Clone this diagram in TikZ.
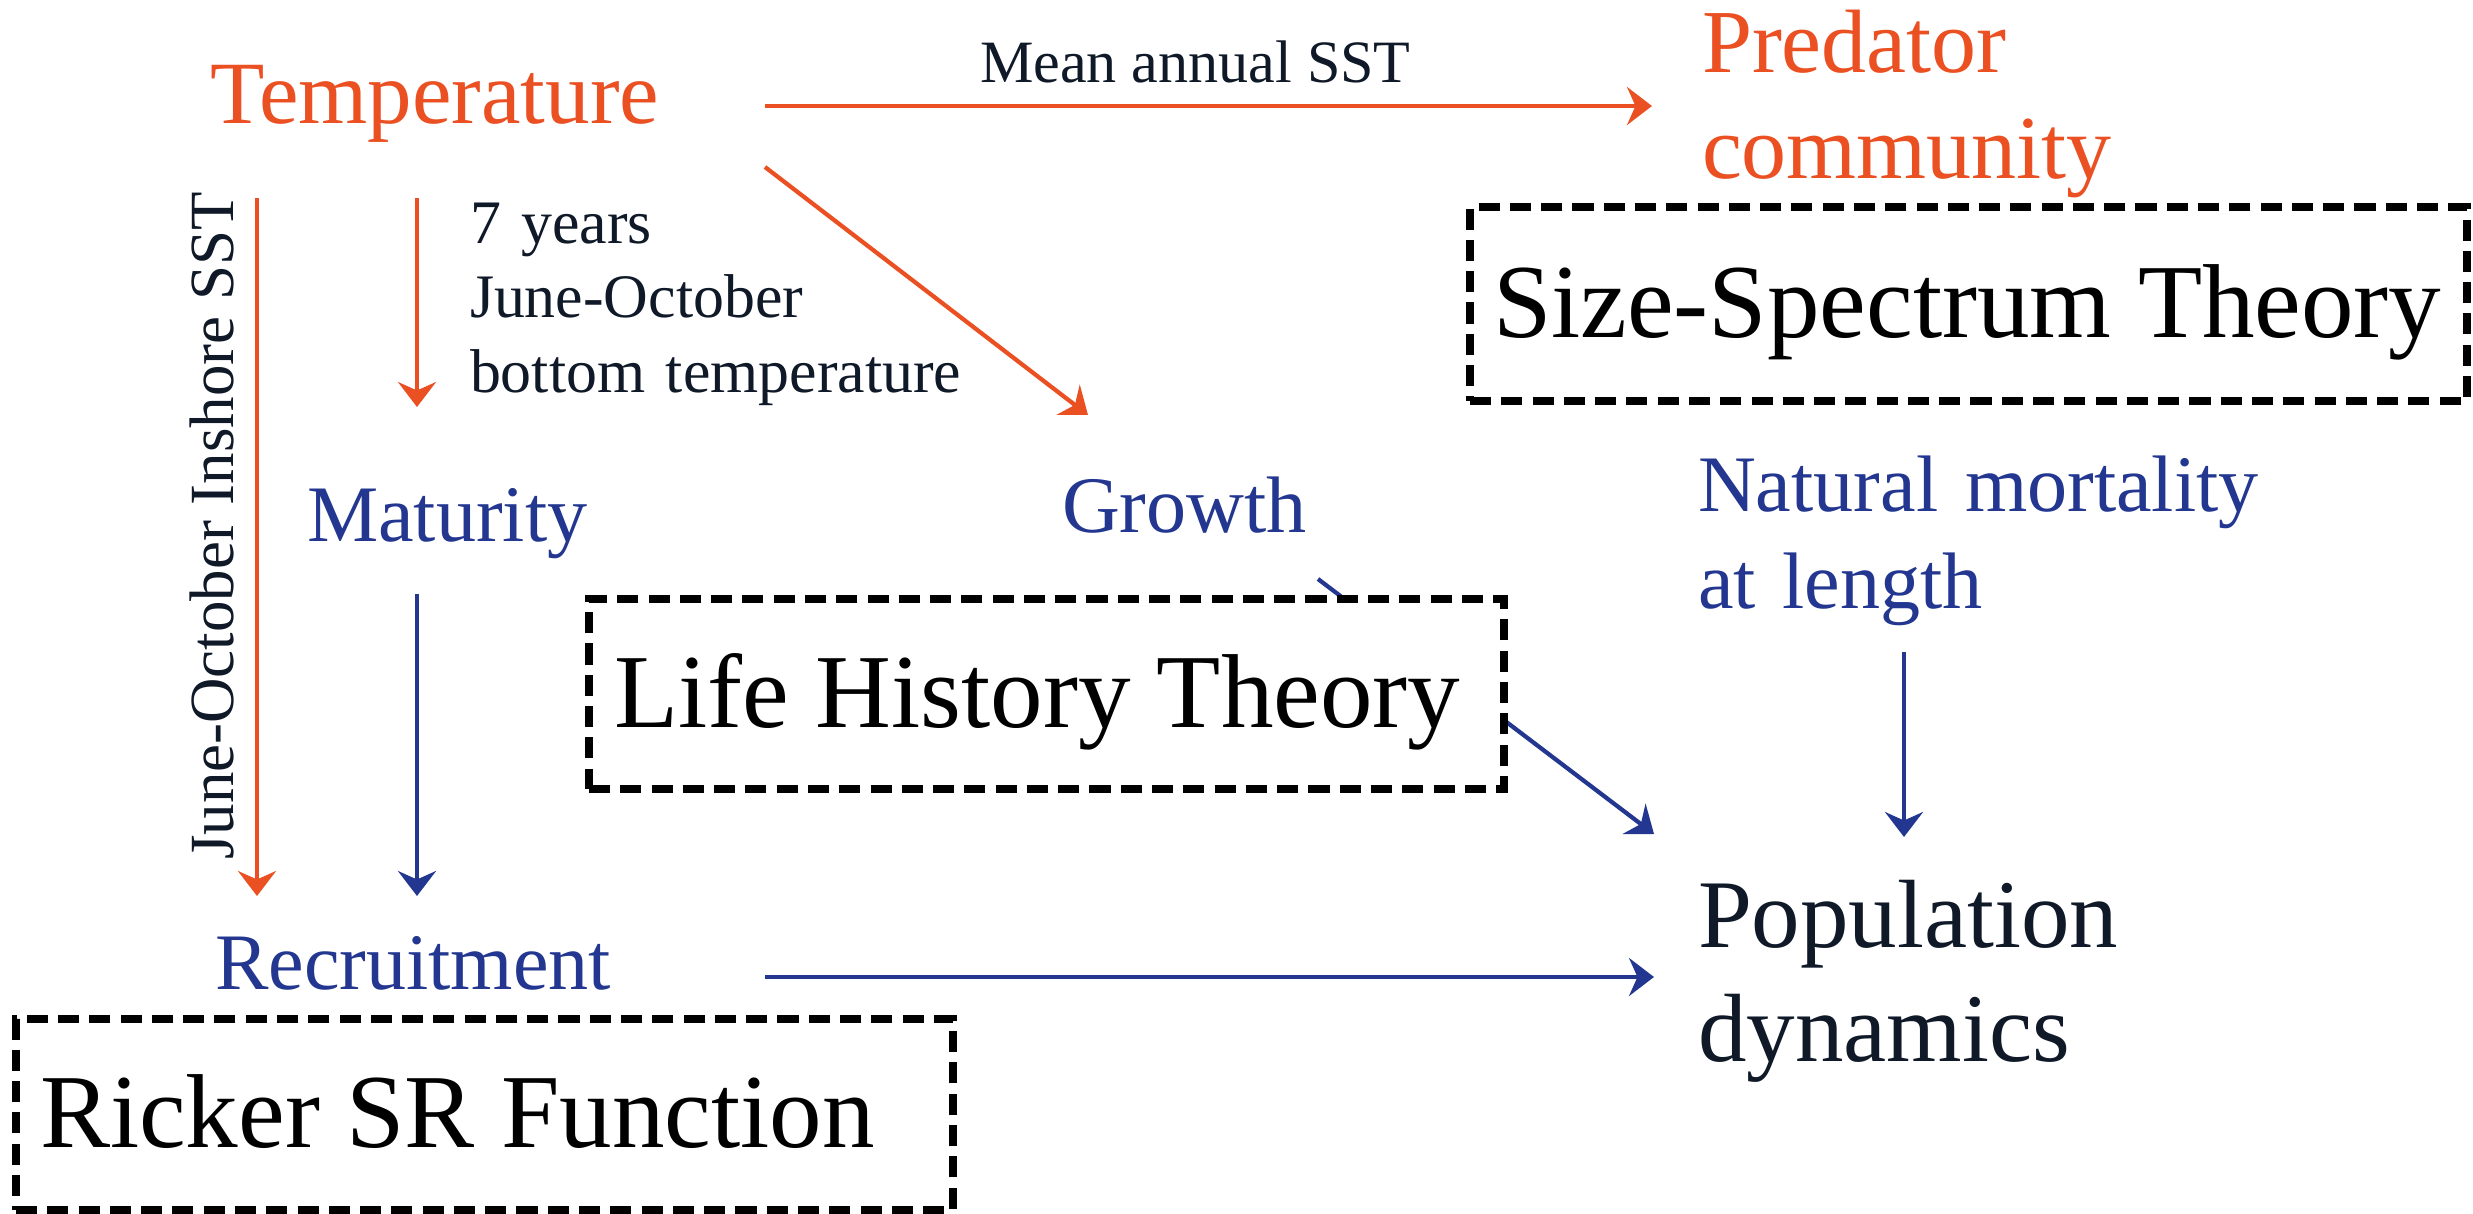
\documentclass[tikz,border=0pt]{standalone}
\usepackage{fontspec}
\setmainfont{Liberation Serif}
\usetikzlibrary{arrows.meta,calc}
\definecolor{orng}{RGB}{235,80,35}
\definecolor{blu}{RGB}{35,55,145}
\definecolor{ink}{RGB}{15,25,40}
\newcommand\fsz[2]{\fontsize{#1}{#2}\selectfont}
\tikzset{
  lbl/.style={inner sep=0pt, outer sep=0pt, anchor=base west},
  multi/.style={text width=100mm, align=left},
  oar/.style={draw=orng, line width=1.2pt, -{Stealth[length=7.1pt,width=10.8pt,inset=2.4pt]}},
  bar/.style={draw=blu, line width=1.2pt, -{Stealth[length=7.1pt,width=10.8pt,inset=2.4pt]}},
  thbox/.style={draw=black, line width=2.1pt, dash pattern=on 6pt off 2.9pt, fill=white,
                inner sep=0pt, outer sep=0pt, anchor=north west},
  bxt/.style={lbl, text=black, font=\fsz{29.9pt}{34pt}}
}
\begin{document}
\begin{tikzpicture}[x=0.1mm,y=-0.1mm]
\useasboundingbox[fill=white] (0,0) rectangle (2473,1214);

% text nodes
\node[lbl, text=orng, font=\fsz{25.3pt}{30pt}] (temp) at (211,123) {Temperature};
\node[lbl, text=ink, font=\fsz{17.1pt}{20pt}] (meanlbl) at (980,82) {Mean annual SST};
\node[lbl, multi, text=orng, font=\fsz{25.6pt}{29.9pt}] (pred) at (1702,73) {Predator\\community};
\node[inner sep=0pt, outer sep=0pt, rotate=90, anchor=base, text=ink, font=\fsz{17.9pt}{21pt}] (junelbl) at (233,526) {June-October Inshore SST};
\node[lbl, multi, text=ink, font=\fsz{17.6pt}{21.3pt}] (yrslbl) at (470,243) {7 years\\June-October\\bottom temperature};
\node[lbl, text=blu, font=\fsz{22.8pt}{27pt}] (mat) at (307,541) {Maturity};
\node[lbl, text=blu, font=\fsz{22.8pt}{27pt}] (grow) at (1062,532) {Growth};
\node[lbl, multi, text=blu, font=\fsz{22.8pt}{27.6pt}] (natmort) at (1698,511) {Natural mortality\\at length};
\node[lbl, text=blu, font=\fsz{22.8pt}{27pt}] (recr) at (215,989) {Recruitment};
\node[lbl, multi, text=ink, font=\fsz{27.6pt}{32.7pt}] (popdyn) at (1698,947) {Population\\dynamics};

% orange connectors
\draw[oar] ($(temp.base west)+(554,-17)$) -- ($(pred.base west)+(-50,33)$);
\draw[oar] ($(temp.base west)+(46,75)$) -- ($(recr.base west)+(42,-93)$);
\draw[oar] ($(temp.base west)+(206,75)$) -- ($(mat.base west)+(110,-134)$);
\draw[oar] ($(temp.base west)+(554,44)$) -- ($(grow.base west)+(26,-117)$);

% blue connectors
\draw[bar] ($(mat.base west)+(110,53)$) -- ($(recr.base west)+(202,-93)$);
\draw[bar] ($(recr.base west)+(550,-12)$) -- ($(popdyn.base west)+(-44,30)$);
\draw[bar] ($(grow.base west)+(256,47)$) -- ($(popdyn.base west)+(-44,-113)$);
\draw[bar] ($(natmort.base west)+(206,141)$) -- ($(popdyn.base west)+(206,-110)$);

% theory boxes
\node[thbox, minimum width=99.7mm, minimum height=19.4mm] (ssbox) at (1470,207) {};
\node[bxt] (sstxt) at ($(ssbox.north west)+(23,130)$) {Size-Spectrum Theory};
\node[thbox, minimum width=91.5mm, minimum height=19.0mm] (lhbox) at (589,599) {};
\node[bxt] (lhtxt) at ($(lhbox.north west)+(25,128)$) {Life History Theory};
\node[thbox, minimum width=93.7mm, minimum height=19.1mm] (rkbox) at (16,1019) {};
\node[bxt] (rktxt) at ($(rkbox.north west)+(24,128)$) {Ricker SR Function};
\end{tikzpicture}
\end{document}
